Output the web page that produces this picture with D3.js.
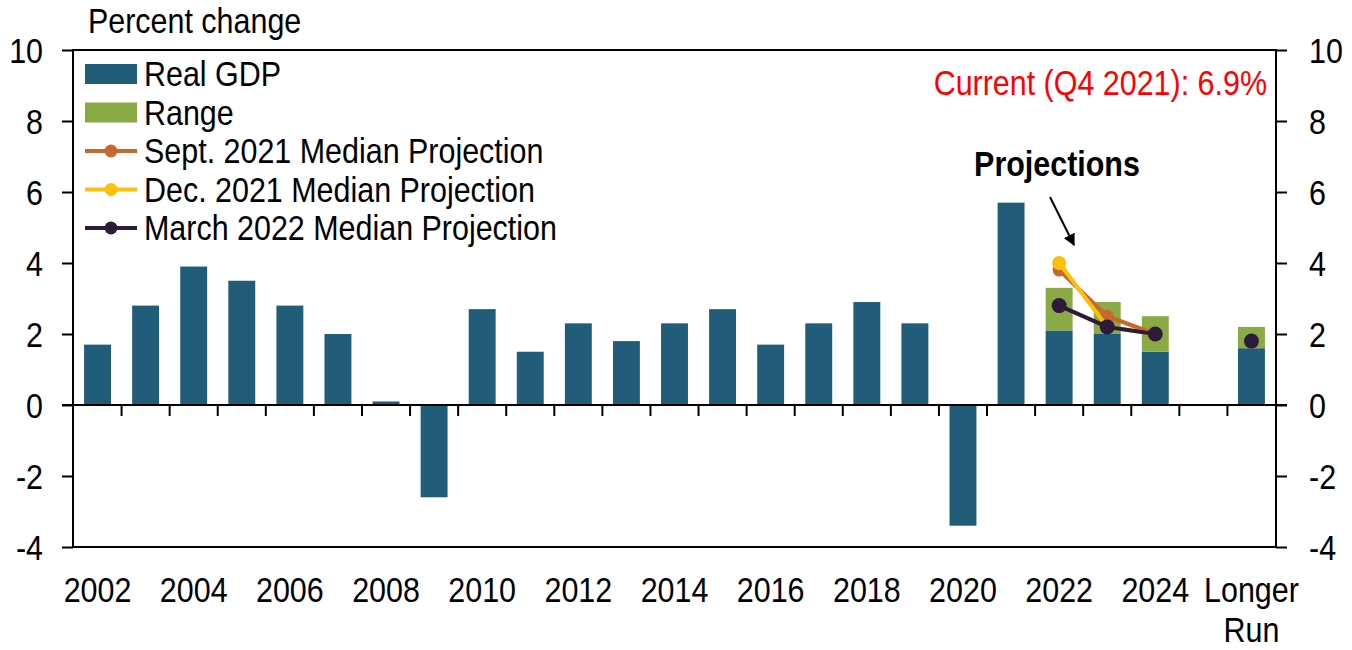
<!DOCTYPE html>
<html>
<head>
<meta charset="utf-8">
<script src="https://cdn.jsdelivr.net/npm/d3@7"></script>
<style>
  html, body { margin: 0; padding: 0; background: #fff; }
  svg { display: block; font-family: "Liberation Sans", Arial, sans-serif; }
</style>
</head>
<body>
<svg id="chart" width="1352" height="650"></svg>
<script>
// ---------------- data ----------------
const categories = ["2002","2003","2004","2005","2006","2007","2008","2009","2010","2011","2012","2013","2014","2015","2016","2017","2018","2019","2020","2021","2022","2023","2024"," ","Longer Run"];
const historyYears = ["2002","2003","2004","2005","2006","2007","2008","2009","2010","2011","2012","2013","2014","2015","2016","2017","2018","2019","2020","2021"];
const realGDP = [1.7, 2.8, 3.9, 3.5, 2.8, 2.0, 0.1, -2.6, 2.7, 1.5, 2.3, 1.8, 2.3, 2.7, 1.7, 2.3, 2.9, 2.3, -3.4, 5.7];
const projCats = ["2022","2023","2024","Longer Run"];
const rangeLow  = [2.1, 2.0, 1.5, 1.6];
const rangeHigh = [3.3, 2.9, 2.5, 2.2];
const sept2021  = [3.8, 2.5, 2.0, 1.8];
const dec2021   = [4.0, 2.2, 2.0, 1.8];
const march2022 = [2.8, 2.2, 2.0, 1.8];
const yTicks = [-4, -2, 0, 2, 4, 6, 8, 10];
const xTickLabels = ["2002","2004","2006","2008","2010","2012","2014","2016","2018","2020","2022","2024","Longer Run"];
const legendItems = ["Real GDP", "Range", "Sept. 2021 Median Projection", "Dec. 2021 Median Projection", "March 2022 Median Projection"];

// ---------------- style ----------------
const C = { blue: "#215d78", green: "#89aa45", orange: "#c7682f", yellow: "#fcbf0b", purple: "#2e1a3b", red: "#ff0000", ink: "#000" };
const SX = 0.87;   // horizontal squeeze of the text
const FS = 35;

const svg = d3.select("#chart");
const L = 73, R = 1276, T = 50, B = 547;

const x = d3.scaleBand().domain(categories).range([L + 0.5, R - 0.5]).paddingInner(0.44).paddingOuter(0.22);
const y = d3.scaleLinear().domain([-4, 10]).range([B, T]);
const step = x.step();

function addText(parent, px, py, str, opt = {}) {
  return parent.append("text")
    .attr("transform", `translate(${px},${py}) scale(${SX},1)`)
    .attr("text-anchor", opt.anchor || "start")
    .attr("font-size", opt.size || FS)
    .attr("font-weight", opt.weight || "normal")
    .attr("fill", opt.fill || C.ink)
    .text(str);
}

// ---------------- bars ----------------
const histData = historyYears.map((c, i) => ({ c, v: realGDP[i] }));
svg.append("g").selectAll("rect").data(histData).join("rect")
  .attr("x", d => x(d.c)).attr("width", x.bandwidth())
  .attr("y", d => y(Math.max(0, d.v))).attr("height", d => Math.abs(y(d.v) - y(0)))
  .attr("fill", C.blue);

const projData = projCats.map((c, i) => ({ c, lo: rangeLow[i], hi: rangeHigh[i] }));
svg.append("g").selectAll("rect").data(projData).join("rect")
  .attr("x", d => x(d.c)).attr("width", x.bandwidth())
  .attr("y", d => y(d.lo)).attr("height", d => y(0) - y(d.lo))
  .attr("fill", C.blue);
svg.append("g").selectAll("rect").data(projData).join("rect")
  .attr("x", d => x(d.c)).attr("width", x.bandwidth())
  .attr("y", d => y(d.hi)).attr("height", d => y(d.lo) - y(d.hi))
  .attr("fill", C.green);

// ---------------- frame & axes ----------------
const frame = svg.append("g").attr("stroke", C.ink).attr("stroke-width", 2).attr("fill", "none");
frame.append("rect").attr("x", L).attr("y", T).attr("width", R - L).attr("height", B - T);

const fmt = d => String(d);
const yLeft = svg.append("g").attr("transform", `translate(${L},0)`)
  .call(d3.axisLeft(y).tickValues(yTicks).tickFormat(fmt).tickSize(11).tickSizeOuter(0));
const yRight = svg.append("g").attr("transform", `translate(${R},0)`)
  .call(d3.axisRight(y).tickValues(yTicks).tickFormat(fmt).tickSize(11).tickSizeOuter(0));
[yLeft, yRight].forEach(g => {
  g.select(".domain").remove();
  g.selectAll("line").attr("stroke", C.ink).attr("stroke-width", 2);
  g.selectAll("text").attr("font-size", FS).attr("font-family", "Liberation Sans, Arial, sans-serif")
    .attr("fill", C.ink).attr("dy", "0.36em");
});
yLeft.selectAll("text").attr("x", -30 / SX).attr("transform", `scale(${SX},1)`);
yRight.selectAll("text").attr("x", 33 / SX).attr("transform", `scale(${SX},1)`);

// zero line
svg.append("line").attr("x1", L - 11).attr("x2", R + 11).attr("y1", y(0)).attr("y2", y(0))
  .attr("stroke", C.ink).attr("stroke-width", 2);
// category boundary ticks
svg.append("g").selectAll("line").data(categories.slice(1)).join("line")
  .attr("x1", d => x(d) - (step - x.bandwidth()) / 2).attr("x2", d => x(d) - (step - x.bandwidth()) / 2)
  .attr("y1", y(0)).attr("y2", y(0) + 11)
  .attr("stroke", C.ink).attr("stroke-width", 2);

// x labels
const xAxis = svg.append("g").attr("transform", `translate(0,${B})`)
  .call(d3.axisBottom(x).tickValues(xTickLabels).tickSize(0).tickPadding(30.5));
xAxis.select(".domain").remove();
xAxis.selectAll("text").attr("font-size", FS).attr("font-family", "Liberation Sans, Arial, sans-serif")
  .attr("fill", C.ink).attr("transform", `scale(${SX},1)`)
  .each(function(d) {
    const t = d3.select(this);
    const cx = x(d) + x.bandwidth() / 2;
    t.attr("x", cx / SX);
  });
xAxis.selectAll(".tick").attr("transform", "translate(0,0)");
xAxis.selectAll("text").filter(d => d === "Longer Run").each(function() {
  const t = d3.select(this);
  const xv = t.attr("x");
  t.text(null);
  t.append("tspan").attr("x", xv).text("Longer");
  t.append("tspan").attr("x", xv).attr("dy", "1.13em").text("Run");
});

// ---------------- projection lines ----------------
const cx = c => x(c) + x.bandwidth() / 2;
const lineGen = d3.line().x(d => cx(d.c)).y(d => y(d.v));
const series = [
  { vals: sept2021, color: C.orange, r: 6.5, w: 4 },
  { vals: dec2021, color: C.yellow, r: 7, w: 4 },
  { vals: march2022, color: C.purple, r: 7.5, w: 4 }
];
series.forEach(s => {
  const pts = projCats.map((c, i) => ({ c, v: s.vals[i] }));
  svg.append("path").datum(pts.slice(0, 3)).attr("d", lineGen)
    .attr("fill", "none").attr("stroke", s.color).attr("stroke-width", s.w).attr("stroke-linejoin", "round");
  svg.append("g").selectAll("circle").data(pts).join("circle")
    .attr("cx", d => cx(d.c)).attr("cy", d => y(d.v)).attr("r", s.r).attr("fill", s.color);
});

// ---------------- texts ----------------
addText(svg, 88, 33, "Percent change");
addText(svg, 1267, 95, "Current (Q4 2021): 6.9%", { anchor: "end", fill: C.red });
addText(svg, 1057, 176, "Projections", { anchor: "middle", weight: "bold" });

// arrow
svg.append("defs").append("marker").attr("id", "ah").attr("viewBox", "0 0 10 10")
  .attr("refX", 9).attr("refY", 5).attr("markerWidth", 6).attr("markerHeight", 6).attr("orient", "auto")
  .append("path").attr("d", "M0,0 L10,5 L0,10 z").attr("fill", C.ink);
svg.append("line").attr("x1", 1050).attr("y1", 197).attr("x2", 1074).attr("y2", 245)
  .attr("stroke", C.ink).attr("stroke-width", 2).attr("marker-end", "url(#ah)");

// ---------------- legend ----------------
const lg = svg.append("g");
const lgX0 = 85, lgX1 = 137, lgTextX = 144, lgY0 = 74, lgStep = 38.5;
const legendStyle = [
  { type: "rect", color: C.blue },
  { type: "rect", color: C.green },
  { type: "line", color: C.orange },
  { type: "line", color: C.yellow },
  { type: "line", color: C.purple }
];
legendItems.forEach((name, i) => {
  const cy = lgY0 + i * lgStep;
  const st = legendStyle[i];
  if (st.type === "rect") {
    lg.append("rect").attr("x", lgX0).attr("y", cy - 10).attr("width", lgX1 - lgX0).attr("height", 20).attr("fill", st.color);
  } else {
    lg.append("line").attr("x1", lgX0).attr("x2", lgX1).attr("y1", cy).attr("y2", cy)
      .attr("stroke", st.color).attr("stroke-width", 4);
    lg.append("circle").attr("cx", (lgX0 + lgX1) / 2).attr("cy", cy).attr("r", 6.5).attr("fill", st.color);
  }
  addText(lg, lgTextX, cy + 12, name);
});
</script>
</body>
</html>
